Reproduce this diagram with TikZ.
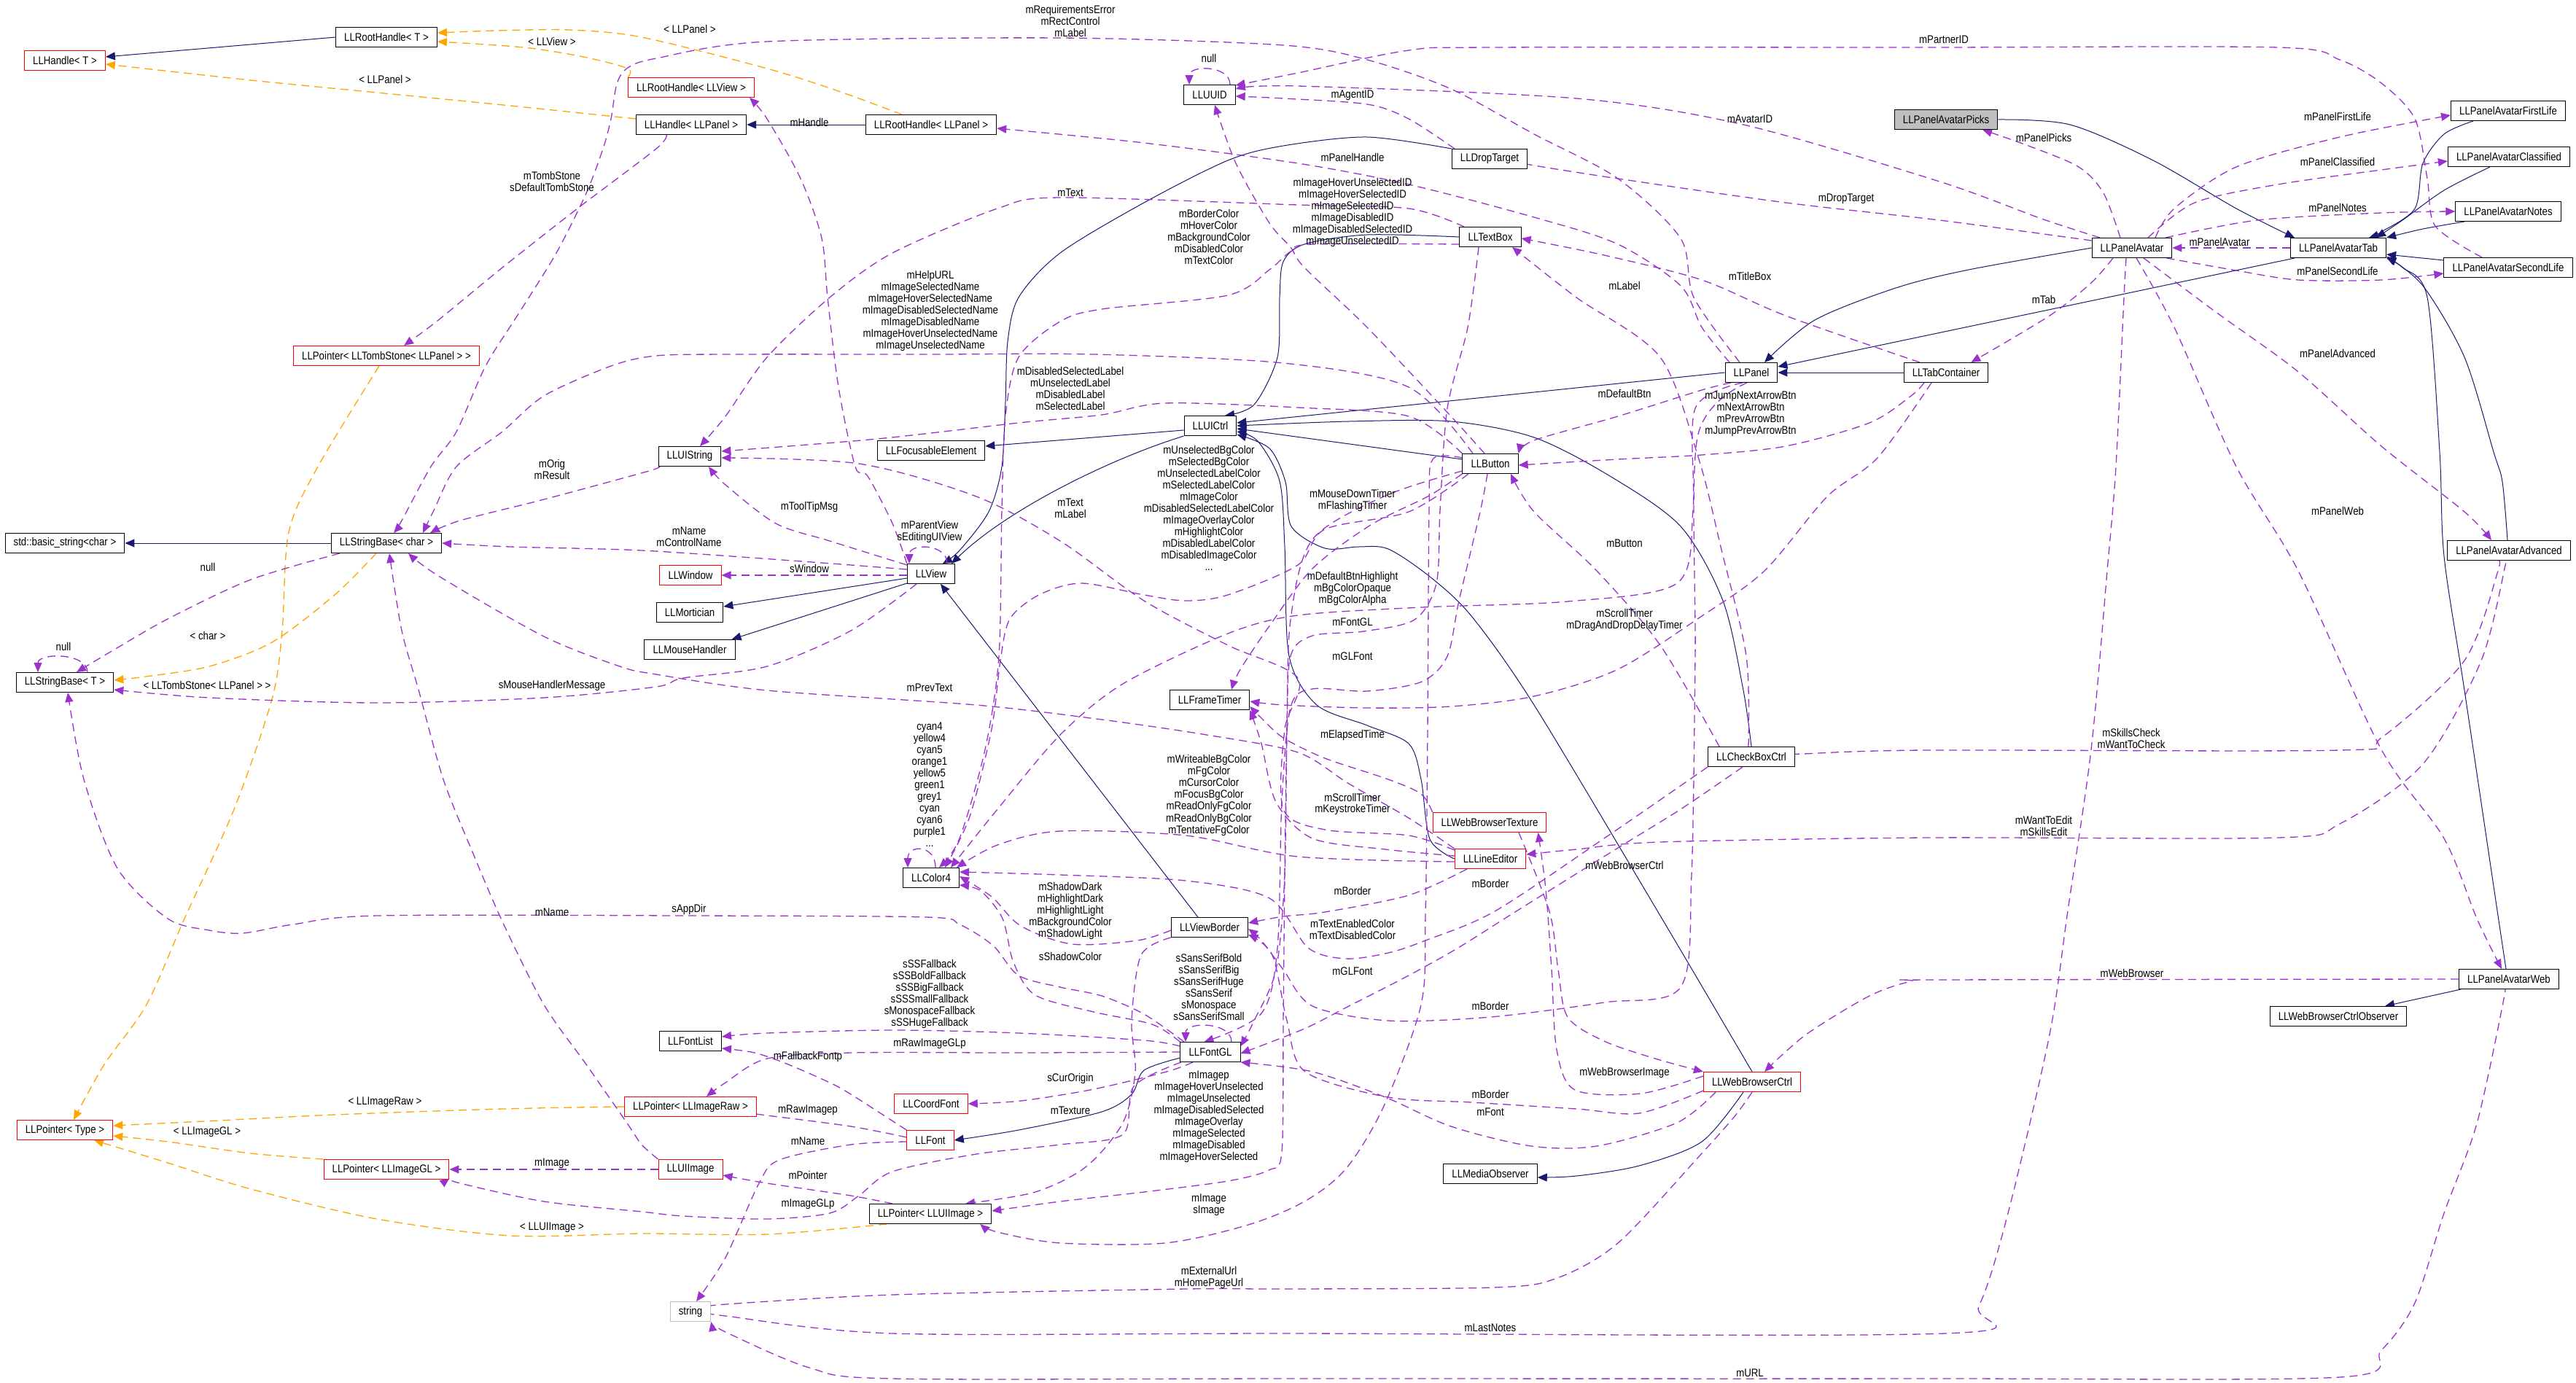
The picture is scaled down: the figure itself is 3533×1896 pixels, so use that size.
\documentclass[tikz,border=0pt]{standalone}
\usepackage{fontspec}
\newfontfamily\dxfam[FakeStretch=0.86]{Liberation Sans}
\newcommand\dxfont{\dxfam\fontsize{7.7}{8}\selectfont}
\usetikzlibrary{arrows.meta}
\pgfdeclarelayer{paper}
\pgfdeclarelayer{edges}
\pgfsetlayers{paper,edges,main}
\definecolor{dxnavy}{HTML}{191970}
\definecolor{dxorchid}{HTML}{9A32CD}
\definecolor{dxorange}{HTML}{FFA500}
\definecolor{dxred}{HTML}{FF0000}
\definecolor{dxgray}{HTML}{BFBFBF}
\tikzset{
  dxbox/.style={draw=black, line width=0.5pt, fill=white, font=\dxfont, inner xsep=5.8pt, inner ysep=0pt, minimum height=13.5pt},
  rbox/.style={dxbox, draw=dxred},
  inh/.style={draw=dxnavy, line width=0.5pt, -{Triangle[length=6.5pt,width=5.5pt]}},
  usg/.style={draw=dxorchid, line width=0.65pt, dash pattern=on 5.5pt off 3.5pt, -{Triangle[length=6.5pt,width=5.5pt]}},
  tpl/.style={draw=dxorange, line width=0.65pt, dash pattern=on 5.5pt off 3.5pt, -{Triangle[length=6.5pt,width=5.5pt]}},
  lbl/.style={font=\dxfont, align=center, inner sep=0pt}
}
\begin{document}
\begin{tikzpicture}[x=0.5pt,y=-0.5pt]
\begin{pgfonlayer}{paper}
\fill[white] (0,0) rectangle (3533,1896);
\end{pgfonlayer}
\useasboundingbox (0,0) rectangle (3533,1896);
% ---------------- nodes
\node[dxbox] (rht) at (530,51) {LLRootHandle< T >};
\node[rbox] (ht) at (89,83) {LLHandle< T >};
\node[rbox] (rhv) at (948,120) {LLRootHandle< LLView >};
\node[dxbox] (hp) at (948,171) {LLHandle< LLPanel >};
\node[dxbox] (rhp) at (1277,171) {LLRootHandle< LLPanel >};
\node[dxbox] (uuid) at (1659,130) {LLUUID};
\node[rbox] (ptomb) at (530,488) {LLPointer< LLTombStone< LLPanel > >};
\node[dxbox] (uistr) at (946,626) {LLUIString};
\node[dxbox] (focus) at (1277,618) {LLFocusableElement};
\node[dxbox] (uictrl) at (1660,584) {LLUICtrl};
\node[dxbox] (drop) at (2043,218) {LLDropTarget};
\node[dxbox] (textbox) at (2044,325) {LLTextBox};
\node[dxbox] (panel) at (2402,511) {LLPanel};
\node[dxbox] (tabc) at (2669,511) {LLTabContainer};
\node[dxbox] (button) at (2044,636) {LLButton};
\node[dxbox, fill=dxgray] (picks) at (2669,164) {LLPanelAvatarPicks};
\node[dxbox] (first) at (3440,152) {LLPanelAvatarFirstLife};
\node[dxbox] (classif) at (3441,215) {LLPanelAvatarClassified};
\node[dxbox] (notes) at (3440,290) {LLPanelAvatarNotes};
\node[dxbox] (second) at (3440,367) {LLPanelAvatarSecondLife};
\node[dxbox] (tab) at (3207,340) {LLPanelAvatarTab};
\node[dxbox] (pav) at (2924,340) {LLPanelAvatar};
\node[dxbox] (stds) at (89,745) {std::basic\_string<char >};
\node[dxbox] (sbc) at (530,745) {LLStringBase< char >};
\node[dxbox] (sbt) at (89,936) {LLStringBase< T >};
\node[dxbox] (view) at (1277,787) {LLView};
\node[rbox] (window) at (947,789) {LLWindow};
\node[dxbox] (mort) at (946,840) {LLMortician};
\node[dxbox] (mouse) at (946,891) {LLMouseHandler};
\node[dxbox] (ftimer) at (1659,960) {LLFrameTimer};
\node[dxbox] (color) at (1277,1204) {LLColor4};
\node[dxbox] (vborder) at (1659,1272) {LLViewBorder};
\node[dxbox] (check) at (2402,1038) {LLCheckBoxCtrl};
\node[rbox] (wbt) at (2043,1128) {LLWebBrowserTexture};
\node[rbox] (line) at (2044,1178) {LLLineEditor};
\node[dxbox] (adv) at (3441,755) {LLPanelAvatarAdvanced};
\node[rbox] (ptype) at (89,1550) {LLPointer< Type >};
\node[rbox] (pgl) at (530,1604) {LLPointer< LLImageGL >};
\node[rbox] (praw) at (947,1518) {LLPointer< LLImageRaw >};
\node[dxbox] (flist) at (947,1428) {LLFontList};
\node[dxbox] (fontgl) at (1660,1443) {LLFontGL};
\node[rbox] (cfont) at (1277,1514) {LLCoordFont};
\node[rbox] (font) at (1276,1564) {LLFont};
\node[rbox] (uiimg) at (947,1604) {LLUIImage};
\node[dxbox] (pui) at (1276,1665) {LLPointer< LLUIImage >};
\node[dxbox, draw=dxgray] (str) at (947,1799) {string};
\node[rbox] (wbc) at (2403,1484) {LLWebBrowserCtrl};
\node[dxbox] (media) at (2044,1610) {LLMediaObserver};
\node[dxbox] (web) at (3441,1343) {LLPanelAvatarWeb};
\node[dxbox] (wbco) at (3207,1394) {LLWebBrowserCtrlObserver};
% ---------------- labels
\node[lbl] (L1) at (757,57) {< LLView >};
\node[lbl] (L2) at (528,109) {< LLPanel >};
\node[lbl] (L3) at (757,249) {mTombStone\\sDefaultTombStone};
\node[lbl] (L4) at (946,40) {< LLPanel >};
\node[lbl] (L5) at (1468,29) {mRequirementsError\\mRectControl\\mLabel};
\node[lbl] (L6) at (1658,80) {null};
\node[lbl] (L7) at (1110,168) {mHandle};
\node[lbl] (L8) at (1468,264) {mText};
\node[lbl] (L9) at (1658,325) {mBorderColor\\mHoverColor\\mBackgroundColor\\mDisabledColor\\mTextColor};
\node[lbl] (L10) at (1276,427) {mHelpURL\\mImageSelectedName\\mImageHoverSelectedName\\mImageDisabledSelectedName\\mImageDisabledName\\mImageHoverUnselectedName\\mImageUnselectedName};
\node[lbl] (L11) at (1468,533) {mDisabledSelectedLabel\\mUnselectedLabel\\mDisabledLabel\\mSelectedLabel};
\node[lbl] (L12) at (1658,697) {mUnselectedBgColor\\mSelectedBgColor\\mUnselectedLabelColor\\mSelectedLabelColor\\mImageColor\\mDisabledSelectedLabelColor\\mImageOverlayColor\\mHighlightColor\\mDisabledLabelColor\\mDisabledImageColor\\...};
\node[lbl] (L13) at (1855,131) {mAgentID};
\node[lbl] (L14) at (2400,163) {mAvatarID};
\node[lbl] (L15) at (1855,216) {mPanelHandle};
\node[lbl] (L16) at (1855,292) {mImageHoverUnselectedID\\mImageHoverSelectedID\\mImageSelectedID\\mImageDisabledID\\mImageDisabledSelectedID\\mImageUnselectedID};
\node[lbl] (L17) at (2532,273) {mDropTarget};
\node[lbl] (L18) at (2400,379) {mTitleBox};
\node[lbl] (L19) at (2228,392) {mLabel};
\node[lbl] (L20) at (2228,540) {mDefaultBtn};
\node[lbl] (L21) at (2401,568) {mJumpNextArrowBtn\\mNextArrowBtn\\mPrevArrowBtn\\mJumpPrevArrowBtn};
\node[lbl] (L22) at (2666,54) {mPartnerID};
\node[lbl] (L23) at (2803,189) {mPanelPicks};
\node[lbl] (L24) at (3206,160) {mPanelFirstLife};
\node[lbl] (L25) at (3206,222) {mPanelClassified};
\node[lbl] (L26) at (3206,285) {mPanelNotes};
\node[lbl] (L27) at (3044,332) {mPanelAvatar};
\node[lbl] (L28) at (3206,372) {mPanelSecondLife};
\node[lbl] (L29) at (2803,411) {mTab};
\node[lbl] (L30) at (3206,485) {mPanelAdvanced};
\node[lbl] (L31) at (757,644) {mOrig\\mResult};
\node[lbl] (L32) at (285,778) {null};
\node[lbl] (L33) at (285,872) {< char >};
\node[lbl] (L34) at (87,887) {null};
\node[lbl] (L35) at (284,940) {< LLTombStone< LLPanel > >};
\node[lbl] (L36) at (757,941) {sMouseHandlerMessage};
\node[lbl] (L37) at (757,1251) {mName};
\node[lbl] (L38) at (1110,696) {mToolTipMsg};
\node[lbl] (L39) at (945,736) {mName\\mControlName};
\node[lbl] (L40) at (1110,780) {sWindow};
\node[lbl] (L41) at (1275,730) {mParentView\\sEditingUIView};
\node[lbl] (L42) at (1468,697) {mText\\mLabel};
\node[lbl] (L43) at (1275,943) {mPrevText};
\node[lbl] (L44) at (1275,1076) {cyan4\\yellow4\\cyan5\\orange1\\yellow5\\green1\\grey1\\cyan\\cyan6\\purple1\\...};
\node[lbl] (L45) at (1658,1091) {mWriteableBgColor\\mFgColor\\mCursorColor\\mFocusBgColor\\mReadOnlyFgColor\\mReadOnlyBgColor\\mTentativeFgColor};
\node[lbl] (L46) at (1468,1249) {mShadowDark\\mHighlightDark\\mHighlightLight\\mBackgroundColor\\mShadowLight};
\node[lbl] (L47) at (945,1247) {sAppDir};
\node[lbl] (L48) at (1855,687) {mMouseDownTimer\\mFlashingTimer};
\node[lbl] (L49) at (2228,745) {mButton};
\node[lbl] (L50) at (1855,808) {mDefaultBtnHighlight\\mBgColorOpaque\\mBgColorAlpha};
\node[lbl] (L51) at (2228,851) {mScrollTimer\\mDragAndDropDelayTimer};
\node[lbl] (L52) at (1855,853) {mFontGL};
\node[lbl] (L53) at (1855,900) {mGLFont};
\node[lbl] (L54) at (1855,1009) {mElapsedTime};
\node[lbl] (L55) at (1855,1103) {mScrollTimer\\mKeystrokeTimer};
\node[lbl] (L56) at (2228,1187) {mWebBrowserCtrl};
\node[lbl] (L57) at (2044,1212) {mBorder};
\node[lbl] (L58) at (1855,1222) {mBorder};
\node[lbl] (L59) at (3206,701) {mPanelWeb};
\node[lbl] (L60) at (2923,1013) {mSkillsCheck\\mWantToCheck};
\node[lbl] (L61) at (2803,1133) {mWantToEdit\\mSkillsEdit};
\node[lbl] (L62) at (528,1512) {< LLImageRaw >};
\node[lbl] (L63) at (284,1553) {< LLImageGL >};
\node[lbl] (L64) at (757,1596) {mImage};
\node[lbl] (L65) at (757,1684) {< LLUIImage >};
\node[lbl] (L66) at (1855,1275) {mTextEnabledColor\\mTextDisabledColor};
\node[lbl] (L67) at (1468,1312) {sShadowColor};
\node[lbl] (L68) at (1275,1363) {sSSFallback\\sSSBoldFallback\\sSSBigFallback\\sSSSmallFallback\\sMonospaceFallback\\sSSHugeFallback};
\node[lbl] (L69) at (1658,1354) {sSansSerifBold\\sSansSerifBig\\sSansSerifHuge\\sSansSerif\\sMonospace\\sSansSerifSmall};
\node[lbl] (L70) at (1275,1432) {mRawImageGLp};
\node[lbl] (L71) at (1108,1449) {mFallbackFontp};
\node[lbl] (L72) at (1468,1479) {sCurOrigin};
\node[lbl] (L73) at (1108,1523) {mRawImagep};
\node[lbl] (L74) at (1468,1523) {mTexture};
\node[lbl] (L75) at (1658,1532) {mImagep\\mImageHoverUnselected\\mImageUnselected\\mImageDisabledSelected\\mImageOverlay\\mImageSelected\\mImageDisabled\\mImageHoverSelected};
\node[lbl] (L76) at (1108,1565) {mName};
\node[lbl] (L77) at (1108,1612) {mPointer};
\node[lbl] (L78) at (1108,1652) {mImageGLp};
\node[lbl] (L79) at (1658,1653) {mImage\\sImage};
\node[lbl] (L80) at (1658,1752) {mExternalUrl\\mHomePageUrl};
\node[lbl] (L81) at (1855,1332) {mGLFont};
\node[lbl] (L82) at (2044,1380) {mBorder};
\node[lbl] (L83) at (2228,1471) {mWebBrowserImage};
\node[lbl] (L84) at (2044,1501) {mBorder};
\node[lbl] (L85) at (2044,1525) {mFont};
\node[lbl] (L86) at (2044,1821) {mLastNotes};
\node[lbl] (L87) at (2400,1883) {mURL};
\node[lbl] (L88) at (2924,1335) {mWebBrowser};
% ---------------- edges
\begin{pgfonlayer}{edges}
% inheritance
\draw[inh] (rht.west) -- ([yshift=2.5pt]ht.east);
\draw[inh] (rhp.west) -- (hp.east);
\draw[inh] (sbc.west) -- (stds.east);
\draw[inh] ([yshift=-3pt]view.west) -- ([yshift=4pt]mort.east);
\draw[inh] ([yshift=-6.5pt]view.west) -- ([xshift=-2.5pt]mouse.north east);
\draw[inh] ([yshift=-3pt]uictrl.west) -- ([yshift=3pt]focus.east);
\draw[inh] (uictrl.south west) .. controls (1520,630) and (1380,700) .. ([xshift=14pt]view.north);
\draw[inh] plot[smooth] coordinates {(drop.north west) (1875,188) (1760,200) (1684,220) (1569,278) (1454,347) (1397,408) (1382,469) (1379,551) (1374,640) (1356,702) (1316,755) ([xshift=8pt]view.north)};
\draw[inh] plot[smooth] coordinates {(textbox.west) (1875,322) (1789,335) (1760,359) (1755,408) (1752,490) (1720,555) ([xshift=10pt]uictrl.north)};
\draw[inh] (panel.west) -- ([yshift=2pt]uictrl.east);
\draw[inh] ([yshift=3pt]button.west) -- ([yshift=-2pt]uictrl.east);
\draw[inh] plot[smooth] coordinates {(check.north) (2391,947) (2363,824) (2305,722) (2208,653) (2104,600) (1990,578) (1850,578) (uictrl.east)};
\draw[inh] plot[smooth] coordinates {(line.west) (1961,1151) (1949,1069) (1932,1020) (1875,995) (1806,967) (1768,900) (1762,750) (1755,660) (1725,605) ([yshift=-4pt]uictrl.east)};
\draw[inh] plot[smooth] coordinates {(wbc.north) (2277,1256) (2104,967) (2018,845) (1961,791) (1904,753) (1863,750) (1817,752) (1771,722) (1763,661) (1741,615) ([yshift=-6pt]uictrl.east)};
\draw[inh] ([xshift=-8pt]vborder.north) -- ([xshift=6.5pt]view.south);
\draw[inh] (tabc.west) -- (panel.east);
\draw[inh] plot[smooth] coordinates {(pav.west) (2700,370) (2600,395) (2489,439) ([xshift=9pt]panel.north)};
\draw[inh] ([xshift=-30pt]tab.south) -- ([yshift=4pt]panel.east);
\draw[inh] plot[smooth] coordinates {(picks.east) (2839,171) (2953,220) (3067,286) ([xshift=-30pt]tab.north)};
\draw[inh] plot[smooth] coordinates {([xshift=-24pt]first.south) (3352,184) (3323,224) (3312,286) (3266,318) ([xshift=21pt]tab.north)};
\draw[inh] plot[smooth] coordinates {([xshift=-13pt]classif.south) (3352,261) (3295,302) ([xshift=26pt]tab.north)};
\draw[inh] plot[smooth] coordinates {([xshift=-30pt]notes.south) (3323,314) (tab.north east)};
\draw[inh] ([yshift=5pt]second.west) -- ([yshift=-4.5pt]tab.east);
\draw[inh] plot[smooth] coordinates {([xshift=-1pt]adv.north) (3432,661) (3420,620) (3380,490) (3323,392) ([yshift=-6pt]tab.east)};
\draw[inh] plot[smooth] coordinates {([xshift=-2pt]web.north) (3426,1256) (3380,947) (3352,763) (3346,620) (3329,408) (3295,367) (tab.south east)};
\draw[inh] plot[smooth] coordinates {([yshift=-4pt]fontgl.west) (1569,1468) (1552,1501) (1511,1525) (1397,1550) (font.east)};
\draw[inh] plot[smooth] coordinates {([xshift=-6pt]wbc.south) (2334,1566) (2248,1599) (2162,1613) ([yshift=-2.5pt]media.east)};
\draw[inh] ([xshift=-33pt]web.south) -- ([xshift=32pt]wbco.north);
% templates
\draw[tpl] plot[smooth] coordinates {(rhv.north west) (861,94) (800,78) (718,65) ([yshift=-3pt]rht.east)};
\draw[tpl] plot[smooth] coordinates {([xshift=-20pt]rhp.north) (1150,125) (1052,94) (880,51) (781,41) (680,42) ([yshift=3pt]rht.east)};
\draw[tpl] plot[smooth] coordinates {([yshift=4pt]hp.west) (700,145) (517,127) (344,110) ([yshift=-2.5pt]ht.east)};
\draw[tpl] plot[smooth] coordinates {([xshift=-7pt]sbc.south) (459,816) (373,881) (287,914) (200,928) ([yshift=1.5pt]sbt.east)};
\draw[tpl] plot[smooth] coordinates {([xshift=-5pt]ptomb.south) (436,640) (396,730) (387,865) (373,959) (321,1110) (253,1260) (201,1378) (143,1460) ([xshift=6pt]ptype.north)};
\draw[tpl] plot[smooth] coordinates {(praw.west) (689,1521) (459,1529) (300,1537) ([yshift=3pt]ptype.east)};
\draw[tpl] plot[smooth] coordinates {(pgl.north west) (344,1582) (230,1566) ([yshift=-4pt]ptype.east)};
\draw[tpl] plot[smooth] coordinates {([xshift=-30pt]pui.south) (1052,1693) (880,1692) (700,1695) (517,1672) (344,1631) (230,1595) ([xshift=20pt]ptype.south)};
% usage
\draw[usg] plot[smooth] coordinates {([xshift=-17pt]hp.south) (900,204) (792,286) (689,367) (600,440) ([xshift=12pt]ptomb.north)};
\draw[usg] plot[smooth] coordinates {(view.north west) (1224,718) (1190,653) (1173,640) (1150,531) (1135,408) (1127,327) (1098,245) (1052,163) ([xshift=40pt]rhv.south)};
\draw[usg] plot[smooth] coordinates {([xshift=-8pt]panel.north) (2323,408) (2305,327) (2219,245) (2104,184) (1990,122) (1875,82) (1760,62) (1454,52) (1052,57) (900,80) (861,93) (846,115) (838,163) (827,204) (804,265) (763,347) (712,429) (666,502) (626,592) (591,640) (551,714) ([xshift=5pt]sbc.north)};
\draw[usg] plot[smooth] coordinates {([xshift=-18pt]textbox.north) (1932,286) (1780,281) (1454,271) (1368,286) (1224,347) (1138,408) (1052,490) (995,571) ([xshift=7pt]uistr.north)};
\draw[usg] plot[smooth] coordinates {([xshift=-15pt]panel.north) (2334,449) (2305,392) (2219,335) (2104,298) (1932,253) (1780,224) (1569,196) ([yshift=-2.5pt]rhp.east)};
\draw[usg] plot[smooth] coordinates {([xshift=-24pt]drop.north) (1932,163) (1875,143) (1760,135) ([yshift=-1pt]uuid.east)};
\draw[usg] plot[smooth] coordinates {([xshift=-22pt]pav.north) (2800,300) (2660,249) (2391,171) (2162,135) (1780,118) ([yshift=4pt]uuid.east)};
\draw[usg] plot[smooth] coordinates {([xshift=-18pt]second.north) (3340,310) (3329,245) (3312,163) (3266,114) (3209,82) (3124,65) (2640,65) (2047,65) (1932,69) (1780,100) ([yshift=6.5pt]uuid.east)};
\draw[usg] ([xshift=14pt]uuid.north) .. controls +(0,-27) and +(0,-27) .. ([xshift=-14pt]uuid.north);
\draw[usg] plot[smooth] coordinates {([xshift=-4pt]button.north) (1990,571) (1875,449) (1789,367) (1770,339) (1741,306) (1695,224) ([xshift=3.5pt]uuid.south)};
\draw[usg] plot[smooth] coordinates {([yshift=-5pt]textbox.west) (1800,335) (1770,345) (1741,370) (1684,405) (1511,424) (1454,441) (1397,490) (1379,571) (1374,700) (1370,900) (1351,1028) (1316,1150) ([xshift=-14pt]color.north east)};
\draw[usg] plot[smooth] coordinates {([xshift=-15pt]button.south) (1932,702) (1817,726) (1780,775) (1684,816) (1626,824) (1569,816) (1483,800) (1425,816) (1385,849) (1372,906) (1360,1000) (1330,1120) ([xshift=-10pt]color.north east)};
\draw[usg] plot[smooth] coordinates {(button.north west) (1932,571) (1780,559) (1598,553) (1511,569) (1397,580) (1203,602) ([yshift=3.5pt]uistr.east)};
\draw[usg] plot[smooth] coordinates {([xshift=-12pt]button.north) (1932,531) (1760,498) (1500,486) (1276,486) (1000,486) (900,488) (838,502) (746,543) (689,592) (626,640) (595,700) ([xshift=25pt]sbc.north)};
\draw[usg] plot[smooth] coordinates {(uistr.south west) (890,646) (746,685) (631,714) ([xshift=30pt]sbc.north)};
\draw[usg] plot[smooth] coordinates {([yshift=3pt]view.west) (1100,770) (880,755) (700,750) (sbc.east)};
\draw[usg] ([yshift=-1pt]view.west) -- (window.east);
\draw[usg] plot[smooth] coordinates {([yshift=6pt]view.west) (1138,742) (1064,718) (995,665) ([xshift=13pt]uistr.south)};
\draw[usg] ([xshift=11pt]view.north) .. controls +(0,-28) and +(0,-28) .. ([xshift=-15pt]view.north);
\draw[usg] plot[smooth] coordinates {([xshift=-10pt]view.south) (1167,865) (1052,914) (937,930) (900,942) (746,957) (517,964) (287,957) ([yshift=-5pt]sbt.east)};
\draw[usg] plot[smooth] coordinates {([xshift=-32pt]sbc.south) (344,795) (230,849) (150,895) ([xshift=8pt]sbt.north)};
\draw[usg] ([xshift=15.5pt]sbt.north) .. controls +(0,-27) and +(0,-27) .. ([xshift=-18.5pt]sbt.north);
\draw[usg] plot[smooth] coordinates {([xshift=-18pt]fontgl.north) (1569,1391) (1511,1366) (1454,1354) (1397,1338) (1362,1297) (1316,1268) (1270,1258) (945,1256) (517,1256) (402,1268) (333,1280) (287,1276) (230,1260) (161,1191) (115,1069) ([xshift=2pt]sbt.south)};
\draw[usg] plot[smooth] coordinates {(uiimg.north west) (880,1570) (861,1542) (804,1460) (746,1378) (689,1264) (649,1171) (608,1069) (574,946) (551,865) ([xshift=2pt]sbc.south)};
\draw[usg] plot[smooth] coordinates {([xshift=-26pt]pui.north) (1167,1640) (1052,1623) ([yshift=-4pt]uiimg.east)};
\draw[usg] plot[smooth] coordinates {([yshift=6pt]line.west) (1932,1146) (1817,1138) (1760,1110) (1762,1000) (1780,930) (1684,885) (1569,824) (1454,742) (1339,681) (1178,636) ([yshift=-1pt]uistr.east)};
\draw[usg] plot[smooth] coordinates {(line.north west) (1932,1122) (1850,1075) (1780,1032) (1655,1008) (1511,987) (1339,967) (1052,947) (900,925) (850,914) (746,873) (603,791) ([xshift=15pt]sbc.south)};
\draw[usg] (tab.west) -- (pav.east);
\draw[usg] plot[smooth] coordinates {([xshift=-8pt]pav.north) (2885,265) (2851,229) (2782,200) ([xshift=25pt]picks.south)};
\draw[usg] plot[smooth] coordinates {([xshift=16pt]pav.north) (2982,286) (3067,229) (3209,188) ([yshift=-3pt]first.west)};
\draw[usg] plot[smooth] coordinates {([xshift=11pt]pav.north) (3010,278) (3124,253) (3266,233) ([yshift=-3pt]classif.west)};
\draw[usg] plot[smooth] coordinates {([xshift=23pt]pav.north) (3096,302) (3266,292) (notes.west)};
\draw[usg] plot[smooth] coordinates {([xshift=-4pt]pav.south east) (3067,371) (3152,384) (3266,384) ([yshift=-4pt]second.west)};
\draw[usg] plot[smooth] coordinates {([xshift=8pt]pav.south) (3039,428) (3152,510) (3266,612) (3380,702) ([xshift=-12pt]adv.north)};
\draw[usg] plot[smooth] coordinates {([xshift=3pt]pav.south) (2982,449) (3067,640) (3152,783) (3266,1028) (3352,1150) (3397,1260) ([xshift=-5pt]web.north)};
\draw[usg] plot[smooth] coordinates {([xshift=-13pt]pav.south) (2868,388) (2811,433) ([xshift=-12pt]tabc.north east)};
\draw[usg] plot[smooth] coordinates {([yshift=5pt]pav.west) (2660,302) (2449,278) (2219,245) (2104,227) ([yshift=-3pt]drop.east)};
\draw[usg] plot[smooth] coordinates {([xshift=-18pt]tabc.north) (2449,433) (2334,384) (2200,350) ([yshift=-1pt]textbox.east)};
\draw[usg] plot[smooth] coordinates {([xshift=-2pt]check.north) (2395,900) (2360,750) (2330,630) (2277,490) (2162,408) ([xshift=15pt]textbox.south)};
\draw[usg] plot[smooth] coordinates {([xshift=-14pt]panel.south) (2334,535) (2219,571) (2104,604) (button.north east)};
\draw[usg] plot[smooth] coordinates {([xshift=-15pt]tabc.south) (2621,543) (2564,580) (2449,612) (2334,624) (2219,630) ([yshift=-1pt]button.east)};
\draw[usg] plot[smooth] coordinates {([xshift=-22pt]check.north) (2277,885) (2190,783) (2104,702) ([xshift=14pt]button.south)};
\draw[usg] plot[smooth] coordinates {(button.south west) (1960,680) (1880,720) (1800,780) (1740,860) (1700,920) ([xshift=15pt]ftimer.north)};
\draw[usg] plot[smooth] coordinates {([yshift=2pt]line.west) (1900,1165) (1800,1150) (1750,1100) (1730,1020) (ftimer.south east)};
\draw[usg] plot[smooth] coordinates {([xshift=-10pt]tabc.south) (2575,628) (2506,681) (2420,783) (2334,845) (2219,918) (2104,955) (1990,969) (1875,971) (1760,967) ([yshift=-1pt]ftimer.east)};
\draw[usg] plot[smooth] coordinates {(wbt.north west) (1949,1089) (1904,1069) (1817,1040) (1760,1012) (1730,985) ([yshift=-4.5pt]ftimer.east)};
\draw[usg] ([xshift=3pt]color.north) .. controls +(0,-32) and +(0,-32) .. ([xshift=-16pt]color.north);
\draw[usg] plot[smooth] coordinates {([xshift=-6pt]panel.south) (2325,560) (2322,700) (2300,800) (2150,825) (1950,833) (1780,844) (1684,869) (1540,938) (1454,1008) (1368,1110) ([xshift=-6pt]color.north east)};
\draw[usg] plot[smooth] coordinates {([yshift=-2pt]line.west) (1780,1175) (1626,1146) (1454,1140) (1368,1159) ([xshift=-2pt]color.north east)};
\draw[usg] plot[smooth] coordinates {([yshift=-2pt]vborder.west) (1560,1290) (1470,1295) (1400,1270) (1360,1230) ([yshift=1pt]color.east)};
\draw[usg] plot[smooth] coordinates {(check.south west) (2200,1150) (2050,1250) (1955,1290) (1904,1307) (1846,1315) (1794,1300) (1741,1232) (1626,1208) (1454,1200) ([yshift=4pt]color.east)};
\draw[usg] plot[smooth] coordinates {(fontgl.north west) (1580,1405) (1500,1388) (1420,1365) (1390,1320) (1375,1260) (1345,1222) ([yshift=-5pt]color.east)};
\draw[usg] plot[smooth] coordinates {([xshift=-16pt]line.south) (1932,1228) (1817,1251) (1760,1257) ([yshift=3pt]vborder.east)};
\draw[usg] plot[smooth] coordinates {([xshift=-3pt]panel.south) (2328,600) (2325,900) (2320,1200) (2305,1354) (2200,1375) (2044,1395) (1904,1400) (1800,1380) (1760,1330) (1730,1290) ([yshift=-1pt]vborder.east)};
\draw[usg] plot[smooth] coordinates {([yshift=-6pt]wbc.west) (2248,1527) (2162,1521) (2018,1512) (1904,1505) (1790,1470) (1765,1400) (1745,1310) ([yshift=-5pt]vborder.east)};
\draw[usg] plot[smooth] coordinates {([xshift=-25pt]wbc.south) (2300,1540) (2190,1572) (2100,1572) (1990,1545) (1900,1505) (1800,1470) (fontgl.south east)};
\draw[usg] plot[smooth] coordinates {([xshift=-6pt]check.south) (2305,1110) (2219,1163) (2081,1249) (2000,1300) (1932,1338) (1850,1380) (1789,1411) ([yshift=-1pt]fontgl.east)};
\draw[usg] plot[smooth] coordinates {([xshift=-8pt]textbox.south) (2013,449) (1985,560) (1975,700) (1970,800) (1940,850) (1870,866) (1800,872) (1770,900) (1765,1000) (1762,1200) (1750,1330) (1720,1400) ([yshift=4pt]fontgl.east)};
\draw[usg] plot[smooth] coordinates {([xshift=-2pt]button.south) (2030,702) (2001,824) (1985,900) (1950,935) (1875,948) (1800,945) (1770,970) (1758,1100) (1752,1300) (1730,1390) ([xshift=-25pt]fontgl.north east)};
\draw[usg] ([xshift=14.5pt]fontgl.north) .. controls +(0,-28) and +(0,-28) .. ([xshift=-17pt]fontgl.north);
\draw[usg] plot[smooth] coordinates {([yshift=4pt]fontgl.west) (1569,1427) (1397,1417) (1224,1413) (1052,1417) ([yshift=3pt]flist.east)};
\draw[usg] plot[smooth] coordinates {(fontgl.west) (1400,1444) (1167,1444) (1052,1452) (995,1485) ([xshift=11pt]praw.north)};
\draw[usg] plot[smooth] coordinates {(font.north west) (1167,1501) (1138,1485) (1081,1460) (1035,1444) ([yshift=-5pt]flist.east)};
\draw[usg] plot[smooth] coordinates {([yshift=2pt]font.west) (1167,1545) (1052,1530) ([yshift=-5pt]praw.east)};
\draw[usg] plot[smooth] coordinates {([xshift=-12pt]fontgl.south) (1600,1470) (1500,1494) (1400,1510) (cfont.east)};
\draw[usg] plot[smooth] coordinates {([yshift=-1pt]font.west) (1167,1570) (1069,1591) (1041,1623) (995,1725) ([xshift=4pt]str.north)};
\draw[usg] (uiimg.west) -- (pgl.east);
\draw[usg] plot[smooth] coordinates {([xshift=-20pt]fontgl.south) (1555,1490) (1540,1556) (1454,1570) (1339,1583) (1224,1607) (1178,1640) (1138,1664) (1052,1672) (937,1668) (880,1662) (746,1648) (631,1623) ([yshift=-6pt]pgl.east)};
\draw[usg] plot[smooth] coordinates {([yshift=-5pt]button.west) (1900,680) (1800,740) (1770,850) (1765,1000) (1762,1200) (1760,1400) (1758,1580) (1740,1605) (1684,1620) (1569,1635) (1454,1648) ([yshift=2pt]pui.east)};
\draw[usg] plot[smooth] coordinates {([yshift=4pt]button.west) (1965,630) (1960,700) (1958,1000) (1955,1256) (1949,1378) (1898,1517) (1846,1603) (1789,1648) (1712,1680) (1598,1705) (1454,1705) (1368,1690) ([xshift=-8pt]pui.south east)};
\draw[usg] plot[smooth] coordinates {(vborder.south west) (1565,1310) (1552,1400) (1557,1470) (1540,1540) (1490,1600) (1420,1635) ([xshift=24pt]pui.north)};
\draw[usg] plot[smooth] coordinates {(wbc.south) (2380,1530) (2334,1582) (2219,1705) (2133,1754) (2047,1766) (1760,1768) (1626,1768) (1224,1776) (995,1789) ([yshift=3pt]str.east)};
\draw[usg] plot[smooth] coordinates {([xshift=-4pt]pav.south) (2913,408) (2902,640) (2890,783) (2868,1028) (2836,1249) (2811,1419) (2754,1664) (2714,1791) (2668,1829) (1760,1829) (1224,1829) (995,1805) ([yshift=-1pt]str.east)};
\draw[usg] plot[smooth] coordinates {([xshift=-4pt]web.south) (3434,1370) (3397,1541) (3352,1664) (3312,1787) (3266,1852) (3209,1889) (2640,1891) (1780,1891) (1224,1891) (1110,1876) (995,1827) (str.south east)};
\draw[usg] plot[smooth] coordinates {(web.west) (2660,1344) (2621,1346) (2564,1366) (2477,1419) ([xshift=8.5pt]wbc.north)};
\draw[usg] plot[smooth] coordinates {([xshift=-2pt]adv.south) (3437,771) (3403,906) (3323,1048) (3209,1130) (3124,1149) (2640,1149) (2277,1155) (2162,1165) ([yshift=3pt]line.east)};
\draw[usg] plot[smooth] coordinates {([xshift=-8pt]adv.south) (3426,783) (3380,906) (3266,1012) (3209,1029) (2640,1029) (2472,1034) ([yshift=2pt]check.east)};
\draw[usg] plot[smooth] coordinates {([xshift=20pt]wbt.south) (2125,1250) (2137,1330) (2150,1395) (2200,1428) (2270,1452) (wbc.north west)};
\draw[usg] plot[smooth] coordinates {([yshift=4pt]wbc.west) (2250,1500) (2160,1495) (2135,1440) (2128,1330) (2120,1220) ([xshift=-6pt]wbt.south east)};
\end{pgfonlayer}
\end{tikzpicture}
\end{document}
